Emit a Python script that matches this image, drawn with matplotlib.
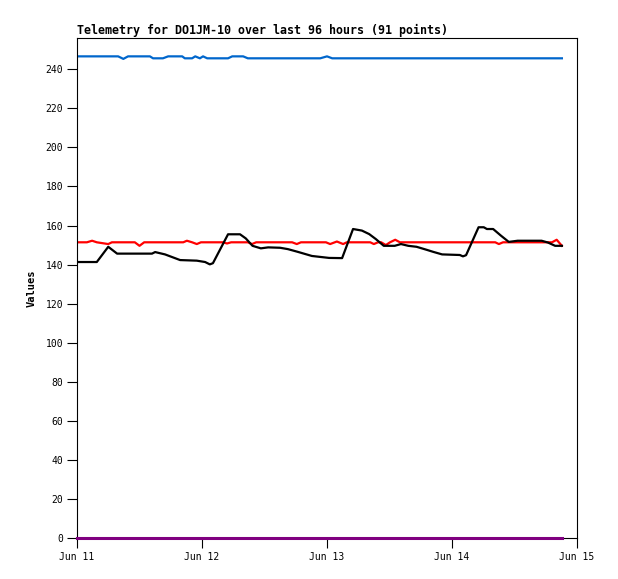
import datetime as dt
import matplotlib
matplotlib.use("Agg")
import matplotlib.pyplot as plt
import matplotlib.dates as mdates

# values (hours since Jun 11 00:00, value)
black_hours = [0, 3.8, 6.0, 7.7, 14.4, 15.0, 16.9, 19.8, 23.0, 24.6, 25.5, 26.1,
               29.0, 31.3, 32.4, 33.7, 35.3, 36.7, 39.0, 40.5, 42.4, 45.1, 48.4,
               50.9, 53.0, 54.7, 56.1, 57.4, 58.9, 61.0, 62.2, 63.6, 65.2, 67.2,
               68.4, 70.1, 73.5, 74.1, 74.7, 77.1, 78.1, 78.7, 79.9, 81.4, 82.9,
               84.6, 89.2, 90.4, 91.8, 93.1]
black_vals = [141.3, 141.3, 149.1, 145.6, 145.6, 146.4, 145.2, 142.3, 142.0, 141.3,
              140.1, 140.7, 155.5, 155.5, 153.4, 149.6, 148.3, 148.8, 148.6, 147.9,
              146.5, 144.4, 143.4, 143.3, 158.2, 157.4, 155.6, 153.0, 149.6, 149.6,
              150.5, 149.6, 149.1, 147.5, 146.5, 145.2, 144.9, 144.2, 144.8, 159.1,
              159.1, 158.2, 158.2, 154.8, 151.6, 152.2, 152.2, 151.3, 149.6, 149.6]

red_hours = [0, 1.9, 2.9, 3.8, 6.0, 6.7, 11.1, 12.0, 12.9, 20.4, 21.1, 22.1, 23.0,
             23.8, 28.0, 28.8, 29.6, 32.8, 33.6, 34.4, 41.3, 42.2, 43.0, 47.8,
             48.6, 49.9, 51.1, 51.8, 56.3, 57.0, 57.8, 58.4, 59.3, 60.1, 61.1,
             62.0, 80.3, 81.0, 81.8, 91.2, 92.1, 93.1]
red_vals = [151.4, 151.4, 152.2, 151.4, 150.5, 151.4, 151.4, 149.6, 151.4, 151.4,
            152.2, 151.4, 150.5, 151.4, 151.4, 150.8, 151.4, 151.4, 150.5, 151.4,
            151.4, 150.5, 151.4, 151.4, 150.5, 151.8, 150.5, 151.4, 151.4, 150.5,
            151.4, 151.4, 150.0, 151.4, 152.7, 151.4, 151.4, 150.5, 151.4, 151.4,
            152.7, 149.6]

blue_hours = [0, 7.9, 8.9, 9.8, 14.0, 14.6, 16.5, 17.5, 20.2, 20.7, 22.1, 22.7,
              23.6, 24.2, 25.0, 29.0, 29.8, 31.9, 32.8, 46.7, 48.0, 49.0, 93.1]
blue_vals = [246.6, 246.6, 245.3, 246.6, 246.6, 245.6, 245.6, 246.6, 246.6, 245.6,
             245.6, 246.6, 245.6, 246.6, 245.6, 245.6, 246.6, 246.6, 245.6, 245.6,
             246.6, 245.6, 245.6]

purple_hours = [0, 93.1]
purple_vals = [0, 0]

start = dt.datetime(2024, 6, 11)


def to_dates(hours):
    return [start + dt.timedelta(hours=h) for h in hours]


mono = "DejaVu Sans Mono"

fig = plt.figure(figsize=(6.18, 5.79), dpi=100)
ax = fig.add_axes([77 / 618, 41 / 579, 500 / 618, 500 / 579])

ax.plot(to_dates(blue_hours), blue_vals, color="#0066cc", lw=1.6)
ax.plot(to_dates(red_hours), red_vals, color="#ff0000", lw=1.6)
ax.plot(to_dates(black_hours), black_vals, color="black", lw=1.6)
ax.plot(to_dates(purple_hours), purple_vals, color="#800080", lw=2.2,
        zorder=5, clip_on=False)

ax.set_xlim(start, start + dt.timedelta(days=4))
ax.set_ylim(0, 256)
ax.set_yticks(range(0, 241, 20))
ax.xaxis.set_major_locator(mdates.DayLocator())
ax.xaxis.set_major_formatter(mdates.DateFormatter("%b %d"))

ax.tick_params(direction="out", length=7, width=0.8, pad=3, labelsize=7,
               top=False, right=False)
for lab in ax.get_xticklabels() + ax.get_yticklabels():
    lab.set_family(mono)
for s in ax.spines.values():
    s.set_linewidth(0.8)

ax.set_title("Telemetry for DO1JM-10 over last 96 hours (91 points)",
             loc="left", family=mono, fontweight="bold", fontsize=8.4, pad=3)
ax.set_ylabel("Values", family=mono, fontweight="bold", fontsize=7.5, labelpad=6)

fig.savefig("out.png", dpi=100)
